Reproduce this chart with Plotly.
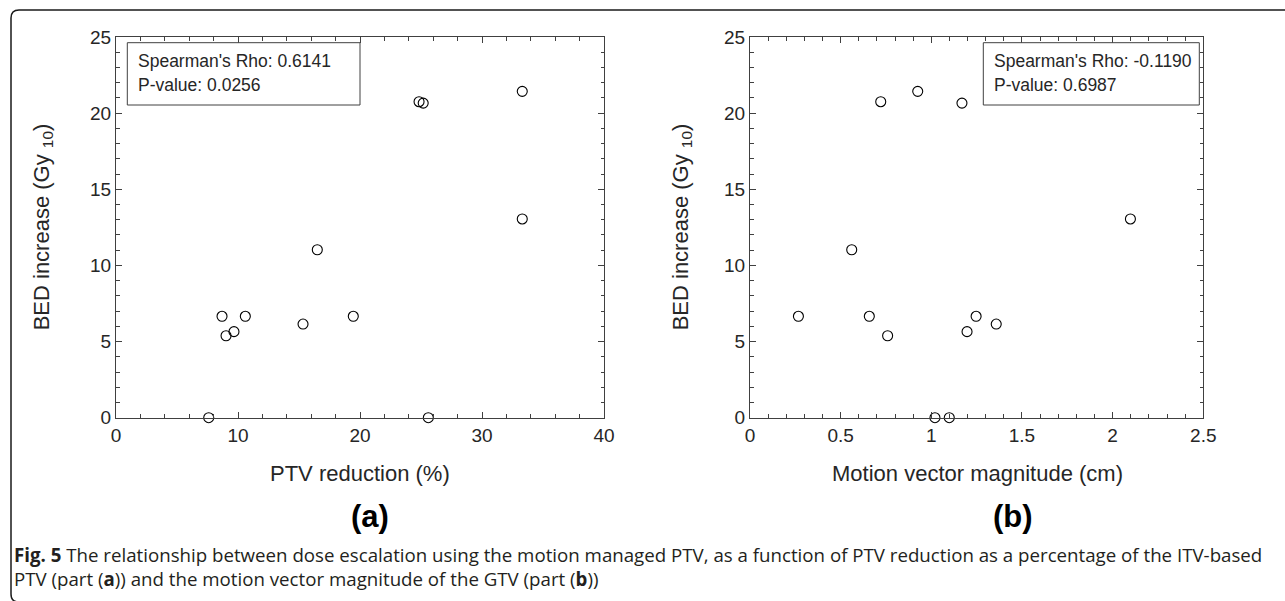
import plotly.graph_objects as go

W, H = 1285, 601

# ---- data ----
ptv_reduction = [24.84, 25.18, 33.3, 33.3, 16.5, 8.69, 9.02, 9.67, 10.6, 15.33, 19.45, 7.6, 25.6]
bed_a = [20.75, 20.66, 21.43, 13.05, 11.03, 6.66, 5.38, 5.65, 6.66, 6.15, 6.66, 0.0, 0.0]

motion_mag = [0.721, 0.925, 1.169, 0.561, 2.098, 0.267, 0.658, 0.759, 1.02, 1.099, 1.197, 1.247, 1.358]
bed_b = [20.75, 21.43, 20.66, 11.03, 13.05, 6.66, 6.66, 5.38, 0.0, 0.0, 5.65, 6.66, 6.15]

stats_a = ["Spearman's Rho: 0.6141", "P-value: 0.0256"]
stats_b = ["Spearman's Rho: -0.1190", "P-value: 0.6987"]

x_ticks_a = [0, 10, 20, 30, 40]
x_ticks_b = [0, 0.5, 1, 1.5, 2, 2.5]
x_ticklabels_b = ["0", "0.5", "1", "1.5", "2", "2.5"]
y_ticks = [0, 5, 10, 15, 20, 25]

caption_line1 = ("<b>Fig. 5</b> The relationship between dose escalation using the motion managed PTV, "
                 "as a function of PTV reduction as a percentage of the ITV-based")
caption_line2 = "PTV (part (<b>a</b>)) and the motion vector magnitude of the GTV (part (<b>b</b>))"


def px(x):
    return x / W


def py(y):
    return 1 - y / H


AX_L_A, AX_R_A = 116, 604
AX_L_B, AX_R_B = 750, 1203.3
AX_T, AX_B = 37, 417.7

FONT = "Liberation Sans, Arial, Helvetica, sans-serif"
AXCOL = "#404040"
TXTCOL = "#262626"

fig = go.Figure()

marker = dict(symbol="circle-open", size=10, color="black", line=dict(width=1.1, color="black"))
fig.add_trace(go.Scatter(x=ptv_reduction, y=bed_a, mode="markers", marker=marker,
                         xaxis="x", yaxis="y", showlegend=False, cliponaxis=False))
fig.add_trace(go.Scatter(x=motion_mag, y=bed_b, mode="markers", marker=marker,
                         xaxis="x2", yaxis="y2", showlegend=False, cliponaxis=False))

common = dict(
    showgrid=False, zeroline=False, showline=True, linecolor=AXCOL, linewidth=1,
    mirror="allticks", ticks="inside", ticklen=6, tickcolor=AXCOL, tickwidth=1,
    automargin=False,
    tickfont=dict(family=FONT, size=19, color=TXTCOL),
)

fig.update_layout(
    template="none",
    width=W, height=H, autosize=False, showlegend=False,
    margin=dict(l=0, r=0, t=0, b=0, pad=0, autoexpand=False),
    paper_bgcolor="white", plot_bgcolor="white",
    font=dict(family=FONT, color=TXTCOL),
    xaxis=dict(domain=[px(AX_L_A), px(AX_R_A)], range=[0, 40], tickvals=x_ticks_a,
               minor=dict(dtick=2, ticklen=3.5, ticks="inside", tickcolor=AXCOL),
               anchor="y", **common),
    yaxis=dict(domain=[py(AX_B), py(AX_T)], range=[0, 25], tickvals=y_ticks,
               minor=dict(dtick=1, ticklen=3.5, ticks="inside", tickcolor=AXCOL),
               anchor="x", **common),
    xaxis2=dict(domain=[px(AX_L_B), px(AX_R_B)], range=[0, 2.5], tickvals=x_ticks_b,
                ticktext=x_ticklabels_b,
                minor=dict(dtick=0.1, ticklen=3.5, ticks="inside", tickcolor=AXCOL),
                anchor="y2", **common),
    yaxis2=dict(domain=[py(AX_B), py(AX_T)], range=[0, 25], tickvals=y_ticks,
                minor=dict(dtick=1, ticklen=3.5, ticks="inside", tickcolor=AXCOL),
                anchor="x2", **common),
)

shapes = []
annotations = []

# statistics boxes
for (x0, x1), lines in (((127.3, 360), stats_a), ((983.3, 1199.3), stats_b)):
    shapes.append(dict(type="rect", xref="paper", yref="paper",
                       x0=px(x0), x1=px(x1), y0=py(105), y1=py(42.7),
                       line=dict(color=AXCOL, width=1), fillcolor="white", layer="above"))
    for i, t in enumerate(lines):
        annotations.append(dict(text=t, xref="paper", yref="paper", x=px(x0 + 8.5), y=py(61 + 24 * i),
                                xanchor="left", yanchor="middle", showarrow=False,
                                font=dict(family=FONT, size=17.5, color=TXTCOL)))

# axis titles
ytitle = "BED increase (Gy <sub>10</sub>)"
for cx in (43, 682):
    annotations.append(dict(text=ytitle, xref="paper", yref="paper", x=px(cx), y=py((AX_T + AX_B) / 2),
                            textangle=-90, xanchor="center", yanchor="middle", showarrow=False,
                            font=dict(family=FONT, size=22, color=TXTCOL)))
for cx, t in ((360, "PTV reduction (%)"), (977, "Motion vector magnitude (cm)")):
    annotations.append(dict(text=t, xref="paper", yref="paper", x=px(cx), y=py(473),
                            xanchor="center", yanchor="middle", showarrow=False,
                            font=dict(family=FONT, size=22, color=TXTCOL)))

# panel labels
for cx, t in ((370, "<b>(a)</b>"), (1013, "<b>(b)</b>")):
    annotations.append(dict(text=t, xref="paper", yref="paper", x=px(cx), y=py(516),
                            xanchor="center", yanchor="middle", showarrow=False,
                            font=dict(family=FONT, size=31, color="black")))

# caption (two lines in one text block)
annotations.append(dict(text=caption_line1 + "<br>" + caption_line2, xref="paper", yref="paper",
                        x=px(12), y=py(566.5), xanchor="left", yanchor="middle", align="left",
                        showarrow=False,
                        font=dict(family="Open Sans, Noto Sans, sans-serif", size=18.7,
                                  color="#231f20")))

# outer frame with rounded left corners (bottom edge runs just below the picture)
shapes.append(dict(type="path", xref="paper", yref="paper",
                   path=(f"M {px(1285)} {py(10)} L {px(19)} {py(10)} "
                         f"Q {px(11)} {py(10)} {px(11)} {py(18)} "
                         f"L {px(11)} {py(594)} Q {px(11)} {py(602)} {px(19)} {py(602)} "
                         f"L {px(1285)} {py(602)}"),
                   line=dict(color="#1a1a1a", width=1.5)))

fig.update_layout(shapes=shapes, annotations=annotations)
fig.write_html("out.html", config={"displayModeBar": False})
